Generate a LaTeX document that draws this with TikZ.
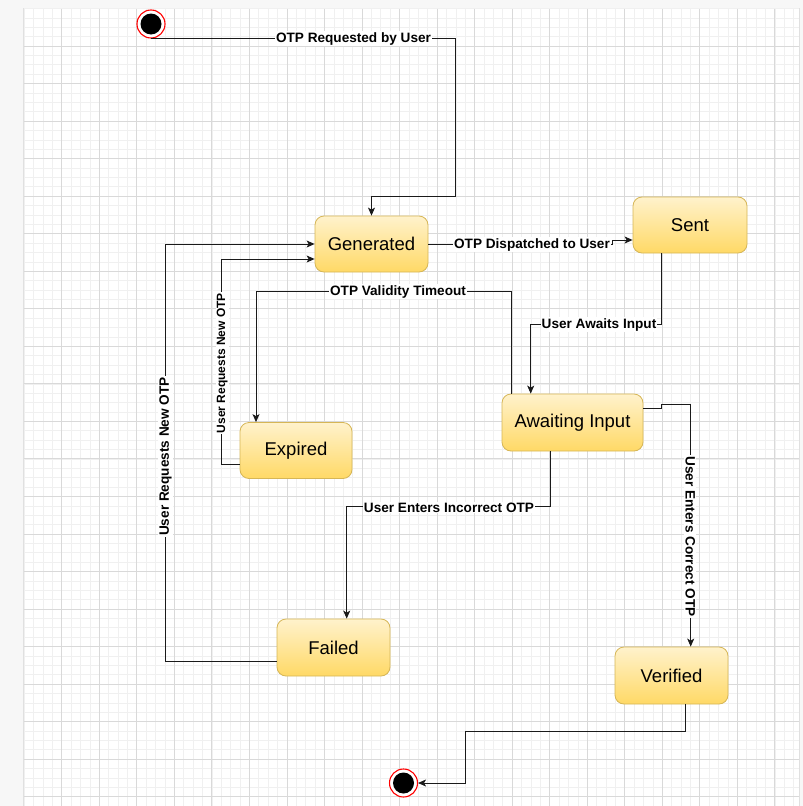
\documentclass[tikz,border=0pt]{standalone}
\usepackage{fontspec}
\setmainfont{Liberation Sans}
\usetikzlibrary{arrows.meta}
\definecolor{pagebg}{HTML}{F7F7F7}
\definecolor{gridminor}{HTML}{F0F0F0}
\definecolor{gridmajor}{HTML}{D9D9D9}
\definecolor{stfill}{HTML}{FFF2CC}
\definecolor{stgrad}{HTML}{FFD966}
\definecolor{ststroke}{HTML}{D6B656}
\definecolor{edgecol}{HTML}{1A1A1A}
\tikzset{
  statebox/.style={rectangle, rounded corners=9pt, draw=ststroke, line width=0.8pt,
    top color=stfill, bottom color=stgrad, inner sep=0pt,
    font=\fontsize{18.5}{21}\selectfont, text=black},
  edge/.style={draw=edgecol, line width=0.9pt, -{Stealth[length=8pt,width=7pt,inset=2pt]}},
  lbl/.style={fill=white, inner sep=1pt, font=\fontsize{13.6}{16}\selectfont\bfseries, text=black},
  lblsmall/.style={fill=white, inner sep=1pt, font=\fontsize{12}{14}\selectfont\bfseries, text=black},
  minorline/.style={draw=gridminor, line width=0.6pt},
  majorline/.style={draw=gridmajor, line width=0.8pt},
}
\begin{document}
\begin{tikzpicture}[x=1pt,y=-1pt]
\useasboundingbox (0,0) rectangle (803,806);
% background
\fill[pagebg] (0,0) rectangle (803,806);
\fill[black!12] (23,7.5) rectangle (800,806);
\fill[white] (24.2,8.5) rectangle (799,806);
\begin{scope}
\clip (24.2,8.5) rectangle (799,806);
\foreach \i in {0,...,84} {
  \draw[minorline] (24.2+\i*9.383,8.5) -- (24.2+\i*9.383,806);
}
\foreach \i in {0,...,86} {
  \draw[minorline] (24.2,8.5+\i*9.383) -- (799,8.5+\i*9.383);
}
\foreach \i in {1,...,21} {
  \draw[majorline] (24.2+\i*37.53,8.5) -- (24.2+\i*37.53,806);
  \draw[majorline] (24.2,8.5+\i*37.53) -- (799,8.5+\i*37.53);
}
\end{scope}

% start and end states
\node[circle, draw=red, line width=1.1pt, fill=white, minimum size=28pt, inner sep=0pt] (start) at (151,24) {};
\fill[black] (start.center) circle (10.5pt);
\node[circle, draw=red, line width=1.1pt, fill=white, minimum size=28pt, inner sep=0pt] (end) at (403.5,783) {};
\fill[black] (end.center) circle (10.5pt);

% states
\node[statebox, minimum width=113pt, minimum height=56pt] (gen) at (371.5,244) {Generated};
\node[statebox, minimum width=114pt, minimum height=56pt] (sent) at (690,225) {Sent};
\node[statebox, minimum width=112pt, minimum height=56pt] (expired) at (296,450.5) {Expired};
\node[statebox, minimum width=141pt, minimum height=57pt] (await) at (572.5,422.5) {Awaiting Input};
\node[statebox, minimum width=113pt, minimum height=57pt] (failed) at (333.5,647.5) {Failed};
\node[statebox, minimum width=113pt, minimum height=57pt] (verified) at (671.5,675.5) {Verified};

% connectors
\draw[edge] (start.south) -| (455,196) -| (gen.north);
\draw[edge] (gen.east) -- (612,244) -- (612,240) -- (sent.west |- 612,240);
\draw[edge] (sent.south -| 661.7,0) |- (530.7,324) -- (await.north -| 530.7,0);
\draw[edge] (await.north -| 511,0) |- (256,291) -- (expired.north -| 256,0);
\draw[edge] (expired.west |- 0,464) -| (221.7,259) -- (gen.west |- 0,259);
\draw[edge] (failed.west |- 0,661.5) -| (165,244) -- (gen.west);
\draw[edge] (await.east |- 0,408) -- (661.7,408) -- (661.7,404) -| (verified.north -| 690.7,0);
\draw[edge] (await.south -| 550.7,0) |- (346.7,506.7) -- (failed.north -| 346.7,0);
\draw[edge] (verified.south -| 685,0) |- (465.7,731.7) |- (end.east);

% labels
\node[lbl] (l1) at (353.5,38.5) {OTP Requested by User};
\node[lbl] (l2) at (532,244.5) {OTP Dispatched to User};
\node[lbl] (l3) at (599,324.5) {User Awaits Input};
\node[lbl] (l4) at (398,291.5) {OTP Validity Timeout};
\node[lblsmall, rotate=90] (l5) at (222.2,363) {User Requests New OTP};
\node[lbl, rotate=90] (l6) at (165.5,456.5) {User Requests New OTP};
\node[lbl, rotate=-90] (l7) at (690.2,536.5) {User Enters Correct OTP};
\node[lbl] (l8) at (449,507.5) {User Enters Incorrect OTP};
\end{tikzpicture}
\end{document}
